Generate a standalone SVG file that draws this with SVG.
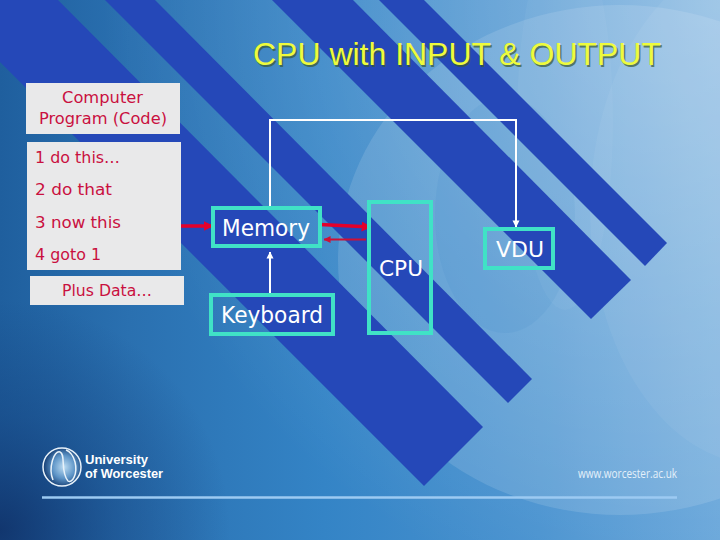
<svg xmlns="http://www.w3.org/2000/svg" width="720" height="540" viewBox="0 0 720 540">
<defs>
<linearGradient id="bg" x1="0" y1="0" x2="1" y2="0">
<stop offset="0" stop-color="#1f5f9e"/>
<stop offset="0.18" stop-color="#2a70b0"/>
<stop offset="0.45" stop-color="#3484c6"/>
<stop offset="0.75" stop-color="#4a93d0"/>
<stop offset="1" stop-color="#68a6da"/>
</linearGradient>
<radialGradient id="dark" gradientUnits="userSpaceOnUse" cx="0" cy="530" r="230">
<stop offset="0" stop-color="#0f2f66" stop-opacity="0.85"/>
<stop offset="0.5" stop-color="#123c78" stop-opacity="0.4"/>
<stop offset="1" stop-color="#123c78" stop-opacity="0"/>
</radialGradient>
<radialGradient id="glow" gradientUnits="userSpaceOnUse" cx="720" cy="0" r="620">
<stop offset="0" stop-color="#ffffff" stop-opacity="0.34"/>
<stop offset="0.6" stop-color="#ffffff" stop-opacity="0.12"/>
<stop offset="1" stop-color="#ffffff" stop-opacity="0"/>
</radialGradient>
<radialGradient id="orb" cx="0.55" cy="0.5" r="0.55">
<stop offset="0" stop-color="#bcdcf2"/>
<stop offset="0.55" stop-color="#5c93c6"/>
<stop offset="1" stop-color="#123a70"/>
</radialGradient>
<marker id="aw" viewBox="0 0 8 8" refX="7.5" refY="4" markerWidth="7" markerHeight="8" markerUnits="userSpaceOnUse" orient="auto"><path d="M0 0L8 4L0 8Z" fill="#fff"/></marker>
<marker id="ar" viewBox="0 0 8 8" refX="7.5" refY="4" markerWidth="10" markerHeight="10" markerUnits="userSpaceOnUse" orient="auto"><path d="M0 0L8 4L0 8Z" fill="#e4002b"/></marker>
<marker id="ad" viewBox="0 0 8 8" refX="7.5" refY="4" markerWidth="7" markerHeight="7" markerUnits="userSpaceOnUse" orient="auto"><path d="M0 0L8 4L0 8Z" fill="#d01035"/></marker>
</defs>
<style>
.stripe{fill:#2548b8}
.paper{fill:#e9e9ea}
.code{font-family:"DejaVu Sans",sans-serif;font-size:16.5px;fill:#c9103f}
.box{fill:none;stroke:#40e2c6;stroke-width:4}
.label{font-family:"DejaVu Sans",sans-serif;fill:#fff}
.title{font-family:"Liberation Sans",Arial,sans-serif;font-size:31.5px}
.wire{fill:none;stroke:#fff;stroke-width:2}
.logo{font-family:"Liberation Sans",sans-serif;font-size:12px;font-weight:700;fill:#fff}
</style>

<g id="background">
<rect width="720" height="540" fill="url(#bg)"/>
<rect width="720" height="540" fill="url(#dark)"/>
<ellipse cx="620" cy="260" rx="282" ry="255" fill="#ffffff" opacity="0.12"/>
<rect width="720" height="540" fill="url(#glow)"/>
<ellipse cx="505" cy="215" rx="70" ry="118" fill="#2f7cc0" opacity="0.1"/>
<ellipse cx="565" cy="120" rx="48" ry="190" fill="#ffffff" opacity="0.04"/>
<ellipse cx="760" cy="210" rx="170" ry="255" fill="#ffffff" opacity="0.05"/>
<path class="stripe" d="M379 0H424L667 243L645 266Z"/>
<path class="stripe" d="M272 0H353L631 280L591 319Z"/>
<path class="stripe" d="M105 0H155L532 379L508 403Z"/>
<path class="stripe" d="M0 0H58L483 427L424 486L0 62Z"/>
</g>

<g id="title">
<text class="title" x="254.500" y="66.500" fill="#3a5a30" opacity="0.7" textLength="408" lengthAdjust="spacingAndGlyphs">CPU with INPUT &amp; OUTPUT</text>
<text class="title" x="253" y="65" fill="#eefb3c" textLength="408" lengthAdjust="spacingAndGlyphs">CPU with INPUT &amp; OUTPUT</text>
</g>

<g id="connectors">
<path class="wire" d="M270 206V120H516V227" marker-end="url(#aw)"/>
<path class="wire" d="M270 293V252" marker-end="url(#aw)"/>
<path d="M179 226H213" fill="none" stroke="#e4002b" stroke-width="3.500" marker-end="url(#ar)"/>
<path d="M320 224.500L371 227" fill="none" stroke="#e4002b" stroke-width="3.500" marker-end="url(#ar)"/>
<path d="M366 239.500H324" fill="none" stroke="#d01035" stroke-width="1.800" marker-end="url(#ad)"/>
</g>

<g id="node-computer-program">
<rect class="paper" x="26" y="83" width="154" height="51"/>
<text class="code" x="62" y="103" textLength="81" lengthAdjust="spacingAndGlyphs">Computer</text>
<text class="code" x="39" y="124" textLength="128" lengthAdjust="spacingAndGlyphs">Program (Code)</text>
</g>
<g id="node-code">
<rect class="paper" x="27" y="142" width="154" height="128"/>
<text class="code" x="35" y="163" textLength="85" lengthAdjust="spacingAndGlyphs">1 do this…</text>
<text class="code" x="35" y="195" textLength="77" lengthAdjust="spacingAndGlyphs">2 do that</text>
<text class="code" x="35" y="228" textLength="86" lengthAdjust="spacingAndGlyphs">3 now this</text>
<text class="code" x="35" y="260" textLength="66" lengthAdjust="spacingAndGlyphs">4 goto 1</text>
</g>
<g id="node-plus-data">
<rect class="paper" x="30" y="276" width="154" height="29"/>
<text class="code" x="62" y="296" textLength="90" lengthAdjust="spacingAndGlyphs">Plus Data…</text>
</g>
<g id="node-memory">
<rect class="box" x="213" y="208" width="107" height="38"/>
<text class="label" x="222" y="236" font-size="23" textLength="88" lengthAdjust="spacingAndGlyphs">Memory</text>
</g>
<g id="node-keyboard">
<rect class="box" x="211" y="295" width="122" height="39"/>
<text class="label" x="221" y="323" font-size="23" textLength="102" lengthAdjust="spacingAndGlyphs">Keyboard</text>
</g>
<g id="node-cpu">
<rect class="box" x="369" y="202" width="62" height="131"/>
<text class="label" x="379" y="276" font-size="22" textLength="44" lengthAdjust="spacingAndGlyphs">CPU</text>
</g>
<g id="node-vdu">
<rect class="box" x="485" y="229" width="68" height="39"/>
<text class="label" x="496" y="257" font-size="22" textLength="48" lengthAdjust="spacingAndGlyphs">VDU</text>
</g>

<g id="footer">
<circle cx="62" cy="467" r="19" fill="url(#orb)" stroke="#e8f2fa" stroke-width="1.500"/>
<path d="M53 480C48 468 54 450 60 452C66 454 60 472 68 481C72 484 78 474 75 462C73 455 69 451 66 450" fill="none" stroke="#e8f2fa" stroke-width="1.500"/>
<text class="logo" x="85" y="464" textLength="63" lengthAdjust="spacingAndGlyphs">University</text>
<text class="logo" x="85" y="478" textLength="78" lengthAdjust="spacingAndGlyphs">of Worcester</text>
<text x="578" y="478" font-family="'Open Sans',sans-serif" font-size="12" fill="#e4f0fa" textLength="99" lengthAdjust="spacingAndGlyphs">www.worcester.ac.uk</text>
<path d="M42 497.500H677" stroke="#9ccaf2" stroke-width="2.500" fill="none"/>
</g>
</svg>
